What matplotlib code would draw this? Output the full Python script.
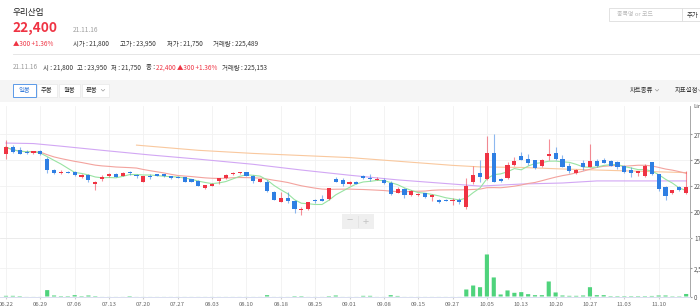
import matplotlib
matplotlib.use('Agg')
import matplotlib.pyplot as plt
from matplotlib.patches import Rectangle
from matplotlib.lines import Line2D
import pandas as pd

plt.rcParams['font.family'] = ['Noto Sans CJK KR', 'DejaVu Sans']

# daily candles, 06.22 .. 11.16 (100 trading days)
opens = [25550, 26250, 25950, 25800, 25650, 25850, 25100, 24050, 23800, 23900,
         23850, 23400, 23550, 22700, 23150, 23500, 23700, 23500, 23800, 23550,
         22900, 23450, 23650, 23650, 23450, 23400, 23350, 23150, 23000, 22350,
         22550, 23000, 23250, 23650, 23750, 23850, 23500, 22900, 22900, 21950,
         21000, 21400, 21100, 20200, 20250, 21150, 21250, 21250, 23200, 23100,
         22700, 22900, 23500, 23250, 23100, 23050, 22800, 21850, 22250, 21600,
         21600, 21800, 21450, 21200, 21200, 21050, 21200, 20500, 22850, 23800,
         23150, 25650, 23200, 23250, 24550, 25400, 25150, 25000, 24450, 25400,
         25650, 25100, 24450, 23750, 24700, 24350, 24900, 25000, 24950, 24800,
         24450, 24050, 23800, 23450, 24800, 23650, 22450, 21800, 22450, 21800]
highs = [26950, 26500, 26300, 25950, 25900, 25950, 25350, 24150, 24100, 24000,
         23950, 23700, 23700, 23000, 23550, 23800, 23750, 23850, 23950, 23650,
         23500, 23650, 23700, 23700, 23500, 23500, 23400, 23200, 23050, 22650,
         22800, 23300, 23650, 23850, 23900, 23900, 23550, 23200, 23100, 22000,
         21900, 21950, 21150, 20450, 21000, 21300, 21650, 22350, 23350, 23250,
         22950, 22950, 23600, 23700, 23350, 23300, 23000, 22450, 22350, 22100,
         21800, 21850, 21700, 21250, 21300, 21400, 21400, 23250, 24450, 25000,
         27300, 27500, 23300, 24850, 25350, 25750, 25550, 25050, 25100, 27000,
         26250, 25500, 24700, 24150, 25000, 26600, 25150, 25250, 25050, 24900,
         24550, 24350, 24000, 24600, 24800, 23700, 22500, 22150, 22550, 23950]
lows = [25150, 25650, 25550, 25600, 25600, 25500, 23800, 23650, 23700, 23750,
        23450, 23250, 22900, 22100, 23000, 23400, 23350, 23450, 23600, 23300,
        22850, 23200, 23450, 23400, 23150, 23250, 22850, 22850, 22500, 22250,
        22500, 22750, 23200, 23600, 23700, 23450, 22800, 22850, 21950, 21150,
        20950, 20900, 19950, 19750, 20200, 20900, 21050, 21200, 22850, 22550,
        22650, 22700, 23200, 22950, 23050, 22750, 21650, 21800, 21400, 21550,
        21550, 21400, 21100, 20900, 21050, 20700, 20750, 20300, 22750, 22900,
        23100, 22850, 22900, 23150, 24450, 25000, 24550, 24150, 24350, 25000,
        25000, 24300, 23800, 23650, 24050, 24300, 24350, 24700, 24400, 24150,
        23800, 23400, 23450, 23400, 23600, 22050, 21200, 21750, 22050, 21750]
closes = [26250, 25750, 25600, 25650, 25850, 25550, 24050, 23800, 23900, 23800,
          23550, 23550, 23100, 22900, 23400, 23700, 23400, 23800, 23750, 23450,
          23450, 23400, 23500, 23450, 23250, 23300, 22900, 22900, 22550, 22600,
          22750, 23250, 23550, 23800, 23850, 23500, 23000, 23150, 22000, 21200,
          21400, 21100, 20250, 20300, 20950, 21050, 21100, 22300, 22900, 22750,
          22850, 22750, 23250, 23200, 23200, 22800, 21750, 22250, 21650, 22000,
          21750, 21450, 21650, 20950, 21100, 21200, 20950, 22550, 23550, 23350,
          25650, 22900, 22950, 24550, 24900, 25050, 24700, 24200, 25000, 25550,
          25100, 24350, 23950, 24050, 24300, 24900, 24450, 24750, 24450, 24350,
          23900, 23800, 23950, 24450, 23650, 22200, 21550, 22100, 22100, 22400]
volumes = [60000, 60000, 40000, 5000, 5000, 5000, 570000, 90000, 40000, 40000,
           120000, 40000, 90000, 40000, 5000, 5000, 5000, 5000, 40000, 5000,
           5000, 5000, 5000, 5000, 5000, 5000, 5000, 5000, 5000, 5000,
           5000, 5000, 5000, 5000, 5000, 5000, 5000, 5000, 120000, 5000,
           5000, 5000, 40000, 40000, 5000, 5000, 5000, 40000, 90000, 5000,
           5000, 5000, 60000, 60000, 5000, 5000, 120000, 50000, 5000, 5000,
           5000, 5000, 5000, 5000, 5000, 5000, 5000, 625000, 980000, 830000,
           3750000, 1700000, 180000, 540000, 330000, 390000, 210000, 120000, 120000, 1340000,
           360000, 90000, 60000, 60000, 90000, 830000, 120000, 120000, 40000, 40000,
           40000, 40000, 40000, 40000, 50000, 90000, 90000, 30000, 30000, 225153]

# long moving averages (day index, price)
ma60_idx = [0, 4, 8, 14, 21, 28, 36, 43, 50, 57, 65, 69, 75, 81, 86, 99]
ma60_val = [26650, 26600, 26350, 25950, 25500, 25100, 24600, 24050, 23550, 23100,
            22700, 22500, 22700, 22800, 23000, 23000]
ma120_idx = [19, 28, 36, 43, 50, 57, 65, 69, 75, 81, 86, 99]
ma120_val = [26450, 25950, 25650, 25450, 25250, 24900, 24500, 24350, 24300, 24150,
             24050, 23800]

tick_labels = ['06.22', '06.29', '07.06', '07.13', '07.20', '07.27', '08.03', '08.10',
               '08.18', '08.25', '09.01', '09.08', '09.15', '09.27', '10.05', '10.13',
               '10.20', '10.27', '11.03', '11.10']
price_ticks = [17500, 20000, 22500, 25000, 27500]

RED = '#ef3343'
BLUE = '#2f7fe3'
W, H = 700, 308


def fx(x):
    return x / W


def fy(y):
    return 1 - y / H


fig = plt.figure(figsize=(7, 3.08), dpi=100)


def rect(x0, y0, x1, y1, **kw):
    fig.patches.append(Rectangle((fx(x0), fy(y1)), (x1 - x0) / W, (y1 - y0) / H,
                                 transform=fig.transFigure, **kw))


def txt(x, y, s, size=4.7, color='#333333', ha='left', **kw):
    return fig.text(fx(x), fy(y), s, fontsize=size, color=color, va='center', ha=ha, **kw)


def chevron(x, y, color='#999999'):
    fig.lines.append(Line2D([fx(x - 1.6), fx(x), fx(x + 1.6)], [fy(y - 0.8), fy(y + 0.8), fy(y - 0.8)],
                            transform=fig.transFigure, color=color, lw=0.5))


# header
txt(13, 12, '우리산업', size=6.2, color='#222222')
txt(12, 28, '22,400', size=9.8, color=RED, fontweight='bold')
txt(73, 30, '21.11.16', size=4.8, color='#a0a0a0')
txt(13, 43.5, '▲300 +1.36%', size=4.6, color=RED)
txt(73, 43.5, '시가 : 21,800', size=4.6)
txt(120, 43.5, '고가 : 23,950', size=4.6)
txt(167, 43.5, '저가 : 21,750', size=4.6)
txt(213, 43.5, '거래량 : 225,489', size=4.6)
fig.lines.append(Line2D([fx(13), fx(700)], [fy(54), fy(54)], transform=fig.transFigure,
                        color='#e6e6e6', lw=0.7))

# search box
rect(609, 8, 682, 21, facecolor='white', edgecolor='#dddddd', lw=0.6)
rect(682, 8, 705, 21, facecolor='white', edgecolor='#dddddd', lw=0.6)
txt(617, 14.5, '종목명 or 코드', size=4.3, color='#bbbbbb')
txt(687, 14.5, '추가', size=4.6, color='#333333')

# info row
txt(13, 67.5, '21.11.16', size=4.6, color='#999999')
txt(43, 67.5, '시 : 21,800', size=4.6)
txt(77, 67.5, '고 : 23,950', size=4.6)
txt(111, 67.5, '저 : 21,750', size=4.6)
txt(146, 67.5, '종 :', size=4.6)
txt(156, 67.5, '22,400 ▲300 +1.36%', size=4.6, color=RED)
txt(222, 67.5, '거래량 : 225,153', size=4.6)

# toolbar
rect(0, 80, 700, 102, facecolor='#f5f5f5', edgecolor='none')
rect(13, 84, 36, 97, facecolor='white', edgecolor='#5b9ae8', lw=0.7)
txt(24.5, 90.5, '일봉', size=4.6, color='#3b7fdc', ha='center')
for x0, x1 in [(37, 57), (59, 80), (82, 109)]:
    rect(x0, 84, x1, 97, facecolor='white', edgecolor='#ebebeb', lw=0.6)
txt(47, 90.5, '주봉', size=4.6, ha='center')
txt(69.5, 90.5, '월봉', size=4.6, ha='center')
txt(86, 90.5, '분봉', size=4.6)
chevron(103, 90.3)
txt(630, 90.5, '차트종류', size=4.6)
chevron(657, 90.3)
txt(675, 90.5, '지표설정', size=4.6)
chevron(700, 90.3)

# price panel
x = list(range(len(closes)))
ax = fig.add_axes([0, fy(238), 690 / W, (238 - 106) / H])
vx = fig.add_axes([0, fy(296.5), 690 / W, (296.5 - 239) / H])

closes_s = pd.Series(closes)
ma5 = closes_s.rolling(5, min_periods=1).mean()
ma20 = closes_s.rolling(20, min_periods=1).mean()
ax.plot(ma120_idx, ma120_val, color='#f9c89e', lw=0.8, zorder=2)
ax.plot(ma60_idx, ma60_val, color='#d2a7f4', lw=0.8, zorder=2)
ax.plot(x, ma20, color='#f3a39e', lw=0.8, zorder=2)
ax.plot(x, ma5, color='#98e3a2', lw=0.8, zorder=2)

colors = [RED if c >= o else BLUE for o, c in zip(opens, closes)]
ax.vlines(x, lows, highs, colors=colors, lw=0.8, alpha=0.55, zorder=3)
bottoms = [min(o, c) for o, c in zip(opens, closes)]
heights = [max(abs(c - o), 70) for o, c in zip(opens, closes)]
ax.bar(x, heights, bottom=bottoms, width=0.6, color=colors, zorder=4, linewidth=0)

xmin, xmax = -0.87, 99.56
ax.set_xlim(xmin, xmax)
ax.set_ylim(17500, 30220)
ax.yaxis.tick_right()
ax.set_yticks(price_ticks)
ax.set_yticklabels([f'{v:,}' for v in price_ticks])
ax.set_xticks(range(0, 100, 5))
ax.set_xticklabels([])
ax.tick_params(axis='x', length=0)
ax.tick_params(axis='y', length=1.5, pad=1.5, labelsize=4.5, labelcolor='#555555', color='#999999')
ax.grid(True, color='#f1f1f1', lw=0.6, zorder=0)
for s in ['top', 'left']:
    ax.spines[s].set_visible(False)
ax.spines['bottom'].set_color('#e8e8e8')
ax.spines['bottom'].set_linewidth(0.6)
ax.spines['right'].set_color('#9a9a9a')
ax.spines['right'].set_linewidth(0.6)
txt(693, 107, 'Line', size=4.3, color='#555555')

# volume panel
vbars = vx.bar(x, volumes, width=0.6, color='#4fd37c', linewidth=0, zorder=3)
for b in vbars:
    b.set_snap(False)
vx.set_xlim(xmin, xmax)
vx.set_ylim(0, 5130000)
vx.yaxis.tick_right()
vx.set_yticks([0, 2500000])
vx.set_yticklabels(['0', '2,500,000'])
vx.set_xticks(range(0, 100, 5))
vx.set_xticklabels(tick_labels)
vx.tick_params(axis='x', length=1.5, pad=2.8, labelsize=4.3, labelcolor='#666666', color='#cccccc')
vx.tick_params(axis='y', length=1.5, pad=1.5, labelsize=4.5, labelcolor='#555555', color='#999999')
vx.grid(True, color='#f1f1f1', lw=0.6, zorder=0)
for s in ['top', 'left']:
    vx.spines[s].set_visible(False)
vx.spines['bottom'].set_color('#d9ddf0')
vx.spines['bottom'].set_linewidth(0.7)
vx.spines['bottom'].set_zorder(5)
vx.spines['right'].set_color('#9a9a9a')
vx.spines['right'].set_linewidth(0.6)

# zoom control
rect(342, 214, 374, 229, facecolor='#efefef', edgecolor='none')
fig.lines.append(Line2D([fx(358), fx(358)], [fy(216), fy(227)], transform=fig.transFigure,
                        color='#e2e2e2', lw=0.6))
txt(350, 221.5, '−', size=8, color='#c4c4c4', ha='center')
txt(366, 221.5, '+', size=8, color='#c4c4c4', ha='center')

fig.savefig('out.png', dpi=100)
